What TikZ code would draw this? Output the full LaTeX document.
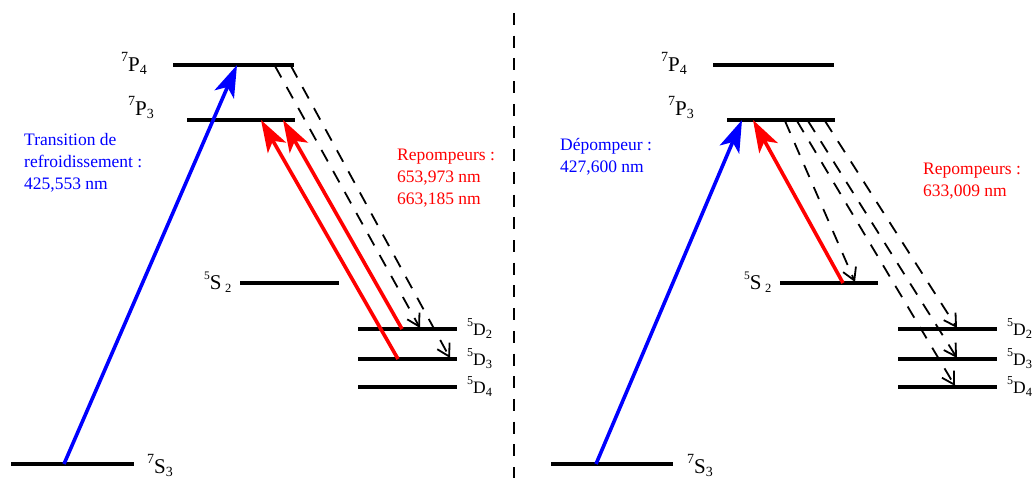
\documentclass[tikz,border=0pt]{standalone}
\usepackage{fontspec}
\setmainfont{Liberation Serif}
\usetikzlibrary{arrows.meta}
\newcommand{\biglvl}[3]{{\fontsize{21}{21}\selectfont\raisebox{10pt}{\fontsize{14}{14}\selectfont #1}#2\raisebox{-3pt}{\fontsize{14}{14}\selectfont #3}}}
\newcommand{\smlvl}[3]{{\fontsize{17.5}{17.5}\selectfont\raisebox{9pt}{\fontsize{12}{12}\selectfont #1}#2\raisebox{-3pt}{\fontsize{12.5}{12.5}\selectfont #3}}}
\newcommand{\slvl}[3]{{\fontsize{21}{21}\selectfont\raisebox{10pt}{\fontsize{11.5}{11.5}\selectfont #1}#2\,\raisebox{-3pt}{\fontsize{12.5}{12.5}\selectfont #3}}}
\begin{document}
\begin{tikzpicture}[x=1pt,y=-1pt,
  level/.style={line width=4pt},
  pump/.style={line width=3.6pt,-{Stealth[length=32pt,width=21pt,inset=8pt]}},
  decay/.style={line width=1.8pt,dash pattern=on 13pt off 11pt,-{Straight Barb[length=12pt,width=14pt,line width=1.8pt]}},
  sep/.style={line width=1.4pt,dash pattern=on 12pt off 10.7pt},
  lbl/.style={anchor=base west,inner sep=0pt},
  txt/.style={anchor=base west,inner sep=0pt,font=\fontsize{17.5}{22}\selectfont}]
\useasboundingbox (0,0) rectangle (1032,478);

% ---------- left diagram ----------
\coordinate (LP4a) at (173,65); \coordinate (LP4b) at (294,65);
\coordinate (LP3a) at (187,120); \coordinate (LP3b) at (295,120);
\coordinate (LS2a) at (240,283); \coordinate (LS2b) at (339,283);
\coordinate (LD2a) at (358,329); \coordinate (LD2b) at (457,329);
\coordinate (LD3a) at (358,359); \coordinate (LD3b) at (457,359);
\coordinate (LD4a) at (358,387); \coordinate (LD4b) at (457,387);
\coordinate (LS3a) at (11,464); \coordinate (LS3b) at (134,464);
\foreach \l in {LP4,LP3,LS2,LD2,LD3,LD4,LS3} \draw[level] (\l a) -- (\l b);

\node[lbl] (lP4) at (121,72) {\biglvl{7}{P}{4}};
\node[lbl] (lP3) at (128,116) {\biglvl{7}{P}{3}};
\node[lbl] (lS2) at (204,289) {\slvl{5}{S}{2}};
\node[lbl] (lD2) at (467,335) {\smlvl{5}{D}{2}};
\node[lbl] (lD3) at (467,365) {\smlvl{5}{D}{3}};
\node[lbl] (lD4) at (467,393) {\smlvl{5}{D}{4}};
\node[lbl] (lS3) at (147,473) {\biglvl{7}{S}{3}};

\coordinate (Lb0) at (64,464);  \coordinate (Lb1) at (237,65);
\coordinate (Lr0) at (398,359); \coordinate (Lr1) at (261,120);
\coordinate (Lq0) at (402,329); \coordinate (Lq1) at (283,120);
\coordinate (Ld0) at (275,66);  \coordinate (Ld1) at (420,328);
\coordinate (Le0) at (291,66);  \coordinate (Le1) at (450,358);
\draw[pump,blue] (Lb0) -- (Lb1);
\draw[pump,red] (Lr0) -- (Lr1);
\draw[pump,red] (Lq0) -- (Lq1);
\draw[decay] (Ld0) -- (Ld1);
\draw[decay] (Le0) -- (Le1);

\node[txt,blue] (tcool) at (24,146) {\begin{tabular}[t]{@{}l@{}}Transition de\\refroidissement :\\425,553 nm\end{tabular}};
\node[txt,red] (trep) at (397,161) {\begin{tabular}[t]{@{}l@{}}Repompeurs :\\653,973 nm\\663,185 nm\end{tabular}};

% ---------- separator ----------
\coordinate (sepT) at (514,13); \coordinate (sepB) at (514,478);
\draw[sep] (sepT) -- (sepB);

% ---------- right diagram ----------
\coordinate (RP4a) at (713,65); \coordinate (RP4b) at (834,65);
\coordinate (RP3a) at (727,120); \coordinate (RP3b) at (835,120);
\coordinate (RS2a) at (780,283); \coordinate (RS2b) at (878,283);
\coordinate (RD2a) at (898,329); \coordinate (RD2b) at (997,329);
\coordinate (RD3a) at (898,359); \coordinate (RD3b) at (997,359);
\coordinate (RD4a) at (898,387); \coordinate (RD4b) at (997,387);
\coordinate (RS3a) at (551,464); \coordinate (RS3b) at (673,464);
\foreach \l in {RP4,RP3,RS2,RD2,RD3,RD4,RS3} \draw[level] (\l a) -- (\l b);

\node[lbl] (rP4) at (661,72) {\biglvl{7}{P}{4}};
\node[lbl] (rP3) at (668,116) {\biglvl{7}{P}{3}};
\node[lbl] (rS2) at (744,289) {\slvl{5}{S}{2}};
\node[lbl] (rD2) at (1007,335) {\smlvl{5}{D}{2}};
\node[lbl] (rD3) at (1007,365) {\smlvl{5}{D}{3}};
\node[lbl] (rD4) at (1007,393) {\smlvl{5}{D}{4}};
\node[lbl] (rS3) at (687,473) {\biglvl{7}{S}{3}};

\coordinate (Rb0) at (596,464); \coordinate (Rb1) at (742,120);
\coordinate (Rr0) at (843,283); \coordinate (Rr1) at (753,120);
\coordinate (Rd0) at (785,121); \coordinate (Rd1) at (855,282);
\coordinate (Re0) at (797,121); \coordinate (Re1) at (955,386);
\coordinate (Rf0) at (808,121); \coordinate (Rf1) at (957,358);
\coordinate (Rg0) at (825,121); \coordinate (Rg1) at (957,328);
\draw[pump,blue] (Rb0) -- (Rb1);
\draw[pump,red] (Rr0) -- (Rr1);
\draw[decay] (Rd0) -- (Rd1);
\draw[decay] (Re0) -- (Re1);
\draw[decay] (Rf0) -- (Rf1);
\draw[decay] (Rg0) -- (Rg1);

\node[txt,blue] (tdep) at (560,151) {\begin{tabular}[t]{@{}l@{}}Dépompeur :\\427,600 nm\end{tabular}};
\node[txt,red] (trep2) at (923,175) {\begin{tabular}[t]{@{}l@{}}Repompeurs :\\633,009 nm\end{tabular}};
\end{tikzpicture}
\end{document}
